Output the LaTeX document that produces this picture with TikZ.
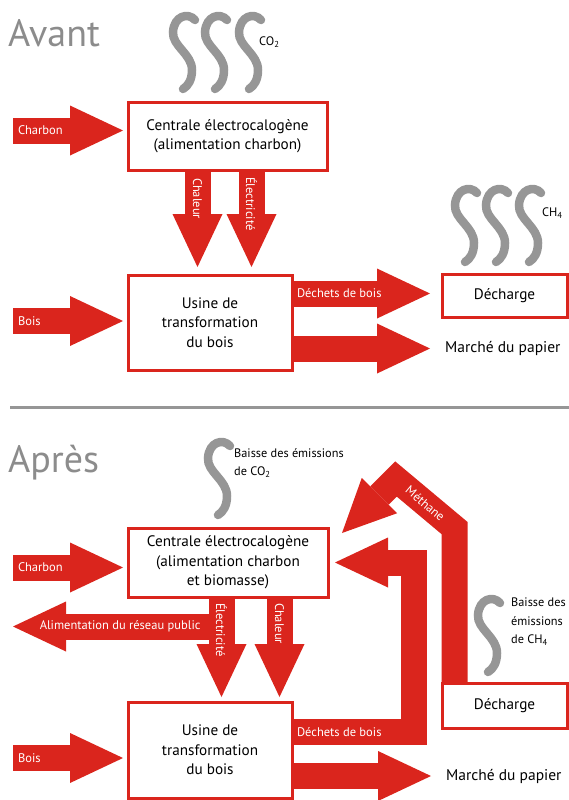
\documentclass[tikz,border=0pt]{standalone}
\usepackage{fontspec}
\setmainfont{PT Sans}
\usetikzlibrary{arrows.meta, positioning, calc}

\definecolor{rouge}{RGB}{218,37,29}
\definecolor{gris}{RGB}{150,150,150}
\definecolor{titregris}{RGB}{140,140,140}

\tikzset{
	boite/.style={draw=rouge, line width=3pt, fill=white, inner sep=0pt, outer sep=0pt, align=center, font=\fontsize{15.2}{19.5}\selectfont},
	flux/.style={draw=rouge, line width=26pt, line join=miter, -{Triangle[length=53pt, width=50pt, line width=0pt]}},
	lbl/.style={text=white, font=\fontsize{12.5}{14}\selectfont, inner sep=0pt, outer sep=0pt},
	texte/.style={font=\fontsize{15.5}{19}\selectfont, inner sep=0pt},
	petit/.style={font=\fontsize{12.3}{18.5}\selectfont, inner sep=0pt, align=left},
	titre/.style={font=\fontsize{38}{42}\selectfont, text=titregris, inner sep=0pt},
	fumee/.style={draw=gris, line width=8.5pt, line cap=round},
	smoke/.pic={\draw[fumee] (27,8) .. controls (20,0) and (6,4) .. (5,20) .. controls (4,34) and (24,42) .. (24,58) .. controls (24,68) and (20,74) .. (15,77);},
}

\begin{document}
\begin{tikzpicture}[x=1pt, y=-1pt]
	\useasboundingbox (0,0) rectangle (569,800);
	
	% Avant
	\node[titre, anchor=base west] (avant) at (8,47) {Avant};
	\foreach \x in {168,200,234} {
		\pic at (\x,12) {smoke};
	}
	\node[petit, anchor=west] (co2A) at (259,42) {CO\textsubscript{2}};
	
	\node[boite, minimum width=199pt, minimum height=68pt] (centraleA) at (227.5,136) {Centrale électrocalogène\\(alimentation charbon)};
	\node[boite, minimum width=164pt, minimum height=95pt] (usineA) at (210,322.5) {Usine de\\transformation\\du bois};
	\node[boite, minimum width=125pt, minimum height=43pt] (dechargeA) at (504.5,295.5) {Décharge};
	\node[texte, anchor=west] (marcheA) at (445,348) {Marché du papier};
	\foreach \x in {450,481,514} {
		\pic at (\x,185) {smoke};
	}
	\node[petit, anchor=west] (ch4A) at (542,213) {CH\textsubscript{4}};
	
	\coordinate (charbonA) at (13,130.5);
	\coordinate (boisA) at (13,321);
	\draw[flux, shorten >=5pt] (charbonA) -- node[lbl, pos=0, anchor=west, xshift=5pt] {Charbon} (charbonA -| centraleA.west);
	\draw[flux, shorten >=5pt] (boisA) -- node[lbl, pos=0, anchor=west, xshift=5pt] {Bois} (boisA -| usineA.west);
	\draw[flux, shorten >=8pt] ([xshift=-30pt]centraleA.south) -- node[lbl, pos=0, anchor=west, rotate=-90, xshift=8pt] {Chaleur} ([xshift=-12.5pt]usineA.north);
	\draw[flux, shorten >=8pt] ([xshift=24pt]centraleA.south) -- node[lbl, pos=0, anchor=west, rotate=-90, xshift=7pt] {Électricité} ([xshift=41.5pt]usineA.north);
	\draw[flux, shorten >=12pt] ([yshift=29pt]usineA.east) coordinate (dechetsA) -- node[lbl, pos=0, anchor=west, xshift=5pt] {Déchets de bois} (dechetsA -| dechargeA.west);
	\draw[flux, shorten >=15pt] ([yshift=-26pt]usineA.east) coordinate (papierA) -- (papierA -| marcheA.west);
	
	% separation
	\draw[gris, line width=3pt] (10,407) -- (569,407);
	
	% Apres
	\node[titre, anchor=base west] (apres) at (8,472) {Après};
	\pic at (203,438) {smoke};
	\node[petit, anchor=north west] (baisseCO2) at (234,448) {Baisse des émissions\\de CO\textsubscript{2}};
	
	\node[boite, minimum width=200pt, minimum height=69pt] (centraleB) at (228,562.5) {Centrale électrocalogène\\(alimentation charbon\\et biomasse)};
	\node[boite, minimum width=164pt, minimum height=96pt] (usineB) at (210,750) {Usine de\\transformation\\du bois};
	\node[boite, minimum width=125pt, minimum height=45pt] (dechargeB) at (504.5,705.5) {Décharge};
	\node[texte, anchor=west] (marcheB) at (446,776) {Marché du papier};
	\pic at (473,595) {smoke};
	\node[petit, anchor=north west] (baisseCH4) at (511,598) {Baisse des\\émissions\\de CH\textsubscript{4}};
	
	\coordinate (charbonB) at (13,567.5);
	\coordinate (boisB) at (13,758);
	\coordinate (reseau) at (221.5,626.5);
	\coordinate (public) at (13,626.5);
	\coordinate (methane) at (342,533);
	\draw[flux, shorten >=5pt] (charbonB) -- node[lbl, pos=0, anchor=west, xshift=5pt] {Charbon} (charbonB -| centraleB.west);
	\draw[flux, shorten >=5pt] (boisB) -- node[lbl, pos=0, anchor=west, xshift=5pt] {Bois} (boisB -| usineB.west);
	\draw[flux] (reseau) -- node[lbl, pos=0, anchor=east, xshift=-21pt] {Alimentation du réseau public} (public);
	\draw[flux, shorten >=5pt] ([xshift=-6.5pt]centraleB.south) -- node[lbl, pos=0, anchor=west, rotate=-90, xshift=6pt] {Électricité} ([xshift=11.5pt]usineB.north);
	\draw[flux, shorten >=5pt] ([xshift=51.5pt]centraleB.south) -- node[lbl, pos=0, anchor=west, rotate=-90, xshift=6pt] {Chaleur} ([xshift=69.5pt]usineB.north);
	\draw[flux, shorten >=7pt] ([yshift=18pt]usineB.east) -- node[lbl, pos=0, anchor=west, xshift=5pt] {Déchets de bois} (414,732) -- (414,562.5) -- (centraleB.east);
	\draw[flux] ([xshift=12.5pt]dechargeB.north west) -- (454.5,528) -- node[lbl, midway, sloped] {Méthane} (396,479) -- (methane);
	\draw[flux, shorten >=15pt] ([yshift=-26pt]usineB.east) coordinate (papierB) -- (papierB -| marcheB.west);
	
\end{tikzpicture}
\end{document}
